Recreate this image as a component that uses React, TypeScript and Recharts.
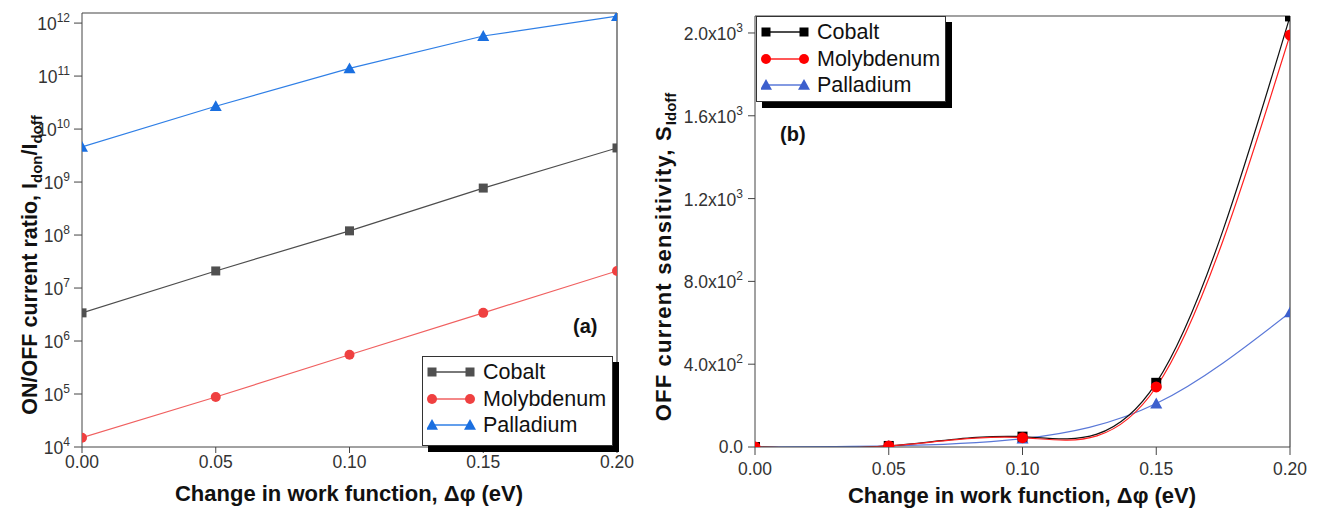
import React from 'react';
import { LineChart, Line, XAxis, YAxis, ReferenceLine } from 'recharts';

const workFunction = [0, 0.05, 0.1, 0.15, 0.2];

// (a) ON/OFF current ratio
const ratioCobalt = [3.4e6, 2.1e7, 1.2e8, 7.7e8, 4.4e9];
const ratioMolybdenum = [1.5e4, 8.8e4, 5.5e5, 3.4e6, 2.1e7];
const ratioPalladium = [4.6e9, 2.7e10, 1.4e11, 5.7e11, 1.35e12];
const ratioTicks = [1e4, 1e5, 1e6, 1e7, 1e8, 1e9, 1e10, 1e11, 1e12];

// (b) OFF current sensitivity
const sensCobalt = [0, 5, 50, 310, 2080];
const sensMolybdenum = [0, 5, 45, 290, 1990];
const sensPalladium = [0, 5, 40, 210, 650];
const sensTicks = [0, 400, 800, 1200, 1600, 2000];

const xTicks = [0, 0.05, 0.1, 0.15, 0.2];

const FONT = '"Liberation Sans", Arial, sans-serif';
const AXIS = '#444';

const ratioData = workFunction.map((x, i) => ({
  x,
  cobalt: ratioCobalt[i],
  molybdenum: ratioMolybdenum[i],
  palladium: ratioPalladium[i],
}));

const sensData = workFunction.map((x, i) => ({
  x,
  cobalt: sensCobalt[i],
  molybdenum: sensMolybdenum[i],
  palladium: sensPalladium[i],
}));

const square = (color: string, s: number) => (props: any) => {
  const { cx, cy, index } = props;
  if (cx == null || cy == null) return <g key={index} />;
  return <rect key={index} x={cx - s / 2} y={cy - s / 2} width={s} height={s} fill={color} />;
};

const circle = (color: string, r: number) => (props: any) => {
  const { cx, cy, index } = props;
  if (cx == null || cy == null) return <g key={index} />;
  return <circle key={index} cx={cx} cy={cy} r={r} fill={color} />;
};

const triangle = (color: string, s: number) => (props: any) => {
  const { cx, cy, index } = props;
  if (cx == null || cy == null) return <g key={index} />;
  const h = s * 0.9;
  return (
    <polygon
      key={index}
      points={`${cx},${cy - h * 0.55} ${cx - s / 2},${cy + h * 0.45} ${cx + s / 2},${cy + h * 0.45}`}
      fill={color}
    />
  );
};

const LogTick = (props: any) => {
  const { x, y, payload } = props;
  const e = Math.round(Math.log10(payload.value));
  return (
    <text x={x} y={y} textAnchor="end" fill="#333" fontSize={17.5} fontFamily={FONT}>
      <tspan dy={7}>10</tspan>
      <tspan dy={-8} fontSize={12}>{e}</tspan>
    </text>
  );
};

const SciTick = (props: any) => {
  const { x, y, payload } = props;
  const v = payload.value;
  if (v === 0) {
    return (
      <text x={x} y={y} dy={6} textAnchor="end" fill="#333" fontSize={17.5} fontFamily={FONT}>
        0.0
      </text>
    );
  }
  const e = Math.floor(Math.log10(v));
  const m = (v / Math.pow(10, e)).toFixed(1);
  return (
    <text x={x} y={y} textAnchor="end" fill="#333" fontSize={17.5} fontFamily={FONT}>
      <tspan dy={7}>{m}x10</tspan>
      <tspan dy={-8} fontSize={12}>{e}</tspan>
    </text>
  );
};

const tickStyle = { fill: '#333', fontSize: 17.5, fontFamily: FONT };

type Entry = { name: string; line: string; icon: (c: string) => React.ReactNode; color: string };

const LegendBox = ({ left, top, width, height, entries }: { left: number; top: number; width: number; height: number; entries: Entry[] }) => (
  <div
    style={{
      position: 'absolute',
      left,
      top,
      width,
      height,
      background: '#fff',
      border: '1px solid #333',
      boxShadow: '6px 6px 0 #000',
      boxSizing: 'border-box',
      fontFamily: FONT,
      fontSize: 21.5,
      color: '#111',
    }}
  >
    {entries.map((en, i) => (
      <div key={en.name} style={{ position: 'absolute', left: 4, top: 2 + i * 26.5, height: 26, display: 'flex', alignItems: 'center' }}>
        <svg width={50} height={20} style={{ marginRight: 6 }}>
          <line x1={5} y1={10} x2={43} y2={10} stroke={en.line} strokeWidth={1.3} />
          <g transform="translate(5,10)">{en.icon(en.color)}</g>
          <g transform="translate(43,10)">{en.icon(en.color)}</g>
        </svg>
        <span style={{ lineHeight: '26px' }}>{en.name}</span>
      </div>
    ))}
  </div>
);

const sq = (s: number) => (c: string) => <rect x={-s / 2} y={-s / 2} width={s} height={s} fill={c} />;
const ci = (r: number) => (c: string) => <circle cx={0} cy={0} r={r} fill={c} />;
const tr = (s: number) => (c: string) => (
  <polygon points={`0,${-s * 0.5} ${-s / 2},${s * 0.4} ${s / 2},${s * 0.4}`} fill={c} />
);

const A = { cobaltLine: '#4d4d4d', cobalt: '#505050', molyLine: '#f06060', moly: '#ef4040', pdLine: '#2f7fe6', pd: '#1a6fe0' };
const B = { cobaltLine: '#111', cobalt: '#000', molyLine: '#ff2020', moly: '#ff0000', pdLine: '#5a78d8', pd: '#3c5fcd' };

export default function App() {
  return (
    <div style={{ position: 'absolute', left: 0, top: 0, width: 1320, height: 509, background: '#fff' }}>
      <div style={{ position: 'absolute', left: 0, top: 0 }}>
        <LineChart width={640} height={509} data={ratioData} margin={{ top: 13, right: 23, bottom: 0, left: 0 }}>
          <XAxis
            dataKey="x"
            type="number"
            domain={[0, 0.2]}
            ticks={xTicks}
            tickFormatter={(v: number) => v.toFixed(2)}
            allowDataOverflow
            height={62}
            stroke={AXIS}
            tick={tickStyle}
            tickSize={6}
            tickMargin={3}
          />
          <YAxis
            type="number"
            scale="log"
            domain={[1e4, 1.55e12]}
            ticks={ratioTicks}
            allowDataOverflow
            width={82}
            stroke={AXIS}
            tick={<LogTick />}
            tickSize={8}
            tickMargin={4}
          />
          <ReferenceLine y={1.55e12} stroke={AXIS} strokeWidth={1.2} />
          <ReferenceLine x={0.2} stroke={AXIS} strokeWidth={1.2} />
          <Line dataKey="cobalt" type="linear" stroke={A.cobaltLine} strokeWidth={1.2} dot={square(A.cobalt, 9)} isAnimationActive={false} />
          <Line dataKey="molybdenum" type="linear" stroke={A.molyLine} strokeWidth={1.2} dot={circle(A.moly, 5)} isAnimationActive={false} />
          <Line dataKey="palladium" type="linear" stroke={A.pdLine} strokeWidth={1.2} dot={triangle(A.pd, 12)} isAnimationActive={false} />
        </LineChart>
      </div>
      <div style={{ position: 'absolute', left: 640, top: 0 }}>
        <LineChart width={680} height={509} data={sensData} margin={{ top: 16, right: 30, bottom: 0, left: 0 }}>
          <XAxis
            dataKey="x"
            type="number"
            domain={[0, 0.2]}
            ticks={xTicks}
            tickFormatter={(v: number) => v.toFixed(2)}
            allowDataOverflow
            height={62}
            stroke={AXIS}
            tick={tickStyle}
            tickSize={8}
            tickMargin={8}
          />
          <YAxis
            type="number"
            domain={[0, 2082]}
            ticks={sensTicks}
            allowDataOverflow
            width={115}
            stroke={AXIS}
            tick={<SciTick />}
            tickSize={7}
            tickMargin={5}
          />
          <ReferenceLine y={2082} stroke={AXIS} strokeWidth={1.2} />
          <ReferenceLine x={0.2} stroke={AXIS} strokeWidth={1.2} />
          <Line dataKey="palladium" type="natural" stroke={B.pdLine} strokeWidth={1.2} dot={triangle(B.pd, 12)} isAnimationActive={false} />
          <Line dataKey="cobalt" type="natural" stroke={B.cobaltLine} strokeWidth={1.2} dot={square(B.cobalt, 10)} isAnimationActive={false} />
          <Line dataKey="molybdenum" type="natural" stroke={B.molyLine} strokeWidth={1.2} dot={circle(B.moly, 5.5)} isAnimationActive={false} />
        </LineChart>
      </div>

      <svg width={1320} height={509} style={{ position: 'absolute', left: 0, top: 0, pointerEvents: 'none' }} fontFamily={FONT}>
        <text transform="translate(37,265) rotate(-90)" textAnchor="middle" fontSize={21.5} fontWeight="bold" fill="#111">
          ON/OFF current ratio, I
          <tspan fontSize={15} dy={5}>don</tspan>
          <tspan dy={-5}>/I</tspan>
          <tspan fontSize={15} dy={5}>doff</tspan>
        </text>
        <text x={349} y={501} textAnchor="middle" fontSize={22} fontWeight="bold" fill="#111">
          Change in work function, Δφ (eV)
        </text>
        <text x={573} y={333} fontSize={20} fontWeight="bold" fill="#111">(a)</text>

        <text transform="translate(671,257) rotate(-90)" textAnchor="middle" fontSize={22} fontWeight="bold" fill="#111" letterSpacing={1.2}>
          OFF current sensitivity, S
          <tspan fontSize={15} dy={5} letterSpacing={0}>Idoff</tspan>
        </text>
        <text x={1022} y={503} textAnchor="middle" fontSize={22} fontWeight="bold" fill="#111">
          Change in work function, Δφ (eV)
        </text>
        <text x={780} y={141} fontSize={20} fontWeight="bold" fill="#111">(b)</text>
      </svg>

      <LegendBox
        left={422}
        top={356}
        width={191}
        height={90}
        entries={[
          { name: 'Cobalt', line: A.cobaltLine, color: A.cobalt, icon: sq(9) },
          { name: 'Molybdenum', line: A.molyLine, color: A.moly, icon: ci(5) },
          { name: 'Palladium', line: A.pdLine, color: A.pd, icon: tr(12) },
        ]}
      />
      <LegendBox
        left={756}
        top={16}
        width={190}
        height={86}
        entries={[
          { name: 'Cobalt', line: B.cobaltLine, color: B.cobalt, icon: sq(9) },
          { name: 'Molybdenum', line: B.molyLine, color: B.moly, icon: ci(5) },
          { name: 'Palladium', line: B.pdLine, color: B.pd, icon: tr(12) },
        ]}
      />
    </div>
  );
}
